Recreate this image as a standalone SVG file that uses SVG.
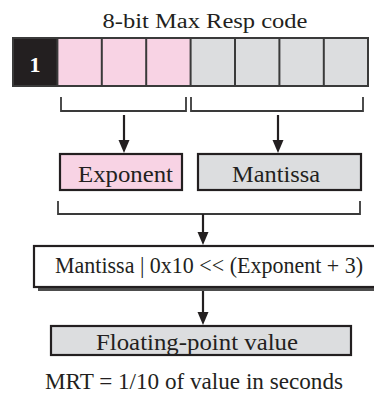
<svg xmlns="http://www.w3.org/2000/svg" width="374" height="393" viewBox="0 0 374 393">
<style>
.t{font-family:'Liberation Serif','DejaVu Serif','Times New Roman',serif;fill:#231f20;}
.box{stroke:#231f20;stroke-width:2.2;}
.br{fill:none;stroke:#3a3a3a;stroke-width:1.8;}
.ln{fill:none;stroke:#231f20;stroke-width:2.2;}
.hd{fill:#231f20;}
</style>
<rect width="374" height="393" fill="#ffffff"/>
<text class="t" x="205" y="28" font-size="20" text-anchor="middle" textLength="205" lengthAdjust="spacingAndGlyphs">8-bit Max Resp code</text>
<g id="register">
<rect x="13" y="38" width="44.4" height="48" fill="#231f20"/>
<rect x="57.4" y="38" width="44.4" height="48" fill="#f8d3e4"/>
<rect x="101.8" y="38" width="44.4" height="48" fill="#f8d3e4"/>
<rect x="146.2" y="38" width="44.4" height="48" fill="#f8d3e4"/>
<rect x="190.6" y="38" width="44.4" height="48" fill="#dcdddf"/>
<rect x="235" y="38" width="44.4" height="48" fill="#dcdddf"/>
<rect x="279.4" y="38" width="44.4" height="48" fill="#dcdddf"/>
<rect x="323.8" y="38" width="44.2" height="48" fill="#dcdddf"/>
<rect x="13" y="38" width="355" height="48" fill="none" stroke="#3a3a3a" stroke-width="2"/>
<path d="M57.4,38V86M101.8,38V86M146.2,38V86M190.6,38V86M235,38V86M279.4,38V86M323.8,38V86" stroke="#3a3a3a" stroke-width="2"/>
<text class="t" x="35" y="72" font-weight="bold" font-size="22" style="fill:#ffffff" text-anchor="middle">1</text>
</g>
<g id="exponent">
<rect class="box" x="60" y="154" width="122" height="36" fill="#f8d3e4"/>
<text class="t" x="125.5" y="182" font-size="24" text-anchor="middle" textLength="95" lengthAdjust="spacingAndGlyphs">Exponent</text>
</g>
<g id="mantissa">
<rect class="box" x="198" y="154" width="163" height="36" fill="#dcdddf"/>
<text class="t" x="276" y="182" font-size="24" text-anchor="middle" textLength="88" lengthAdjust="spacingAndGlyphs">Mantissa</text>
</g>
<g id="formula">
<rect x="38" y="250" width="345" height="41" fill="#4d4d4d"/>
<rect class="box" x="34" y="246" width="345" height="41" fill="#ffffff"/>
<text class="t" x="55" y="273" font-size="23" textLength="308" lengthAdjust="spacingAndGlyphs">Mantissa | 0x10  &lt;&lt; (Exponent + 3)</text>
</g>
<g id="floating">
<rect class="box" x="51" y="326" width="300" height="29" fill="#dcdddf"/>
<text class="t" x="197" y="350" font-size="23" text-anchor="middle" textLength="202" lengthAdjust="spacingAndGlyphs">Floating-point value</text>
</g>
<text class="t" x="194" y="389" font-size="23" text-anchor="middle" textLength="298" lengthAdjust="spacingAndGlyphs">MRT = 1/10 of value in seconds</text>
<g id="connectors">
<path class="br" d="M61,97V111H186V97"/>
<path class="br" d="M191,97V111H363V97"/>
<path class="br" d="M58,201V214H360V201"/>
<line class="ln" x1="124" y1="115" x2="124" y2="142"/>
<polygon class="hd" points="118.5,140 129.5,140 124,153"/>
<line class="ln" x1="278" y1="115" x2="278" y2="142"/>
<polygon class="hd" points="272.5,140 283.5,140 278,153"/>
<line class="ln" x1="203" y1="214" x2="203" y2="234"/>
<polygon class="hd" points="197.5,232 208.5,232 203,245"/>
<line class="ln" x1="203" y1="291" x2="203" y2="314"/>
<polygon class="hd" points="197.5,312 208.5,312 203,325"/>
</g>
</svg>
